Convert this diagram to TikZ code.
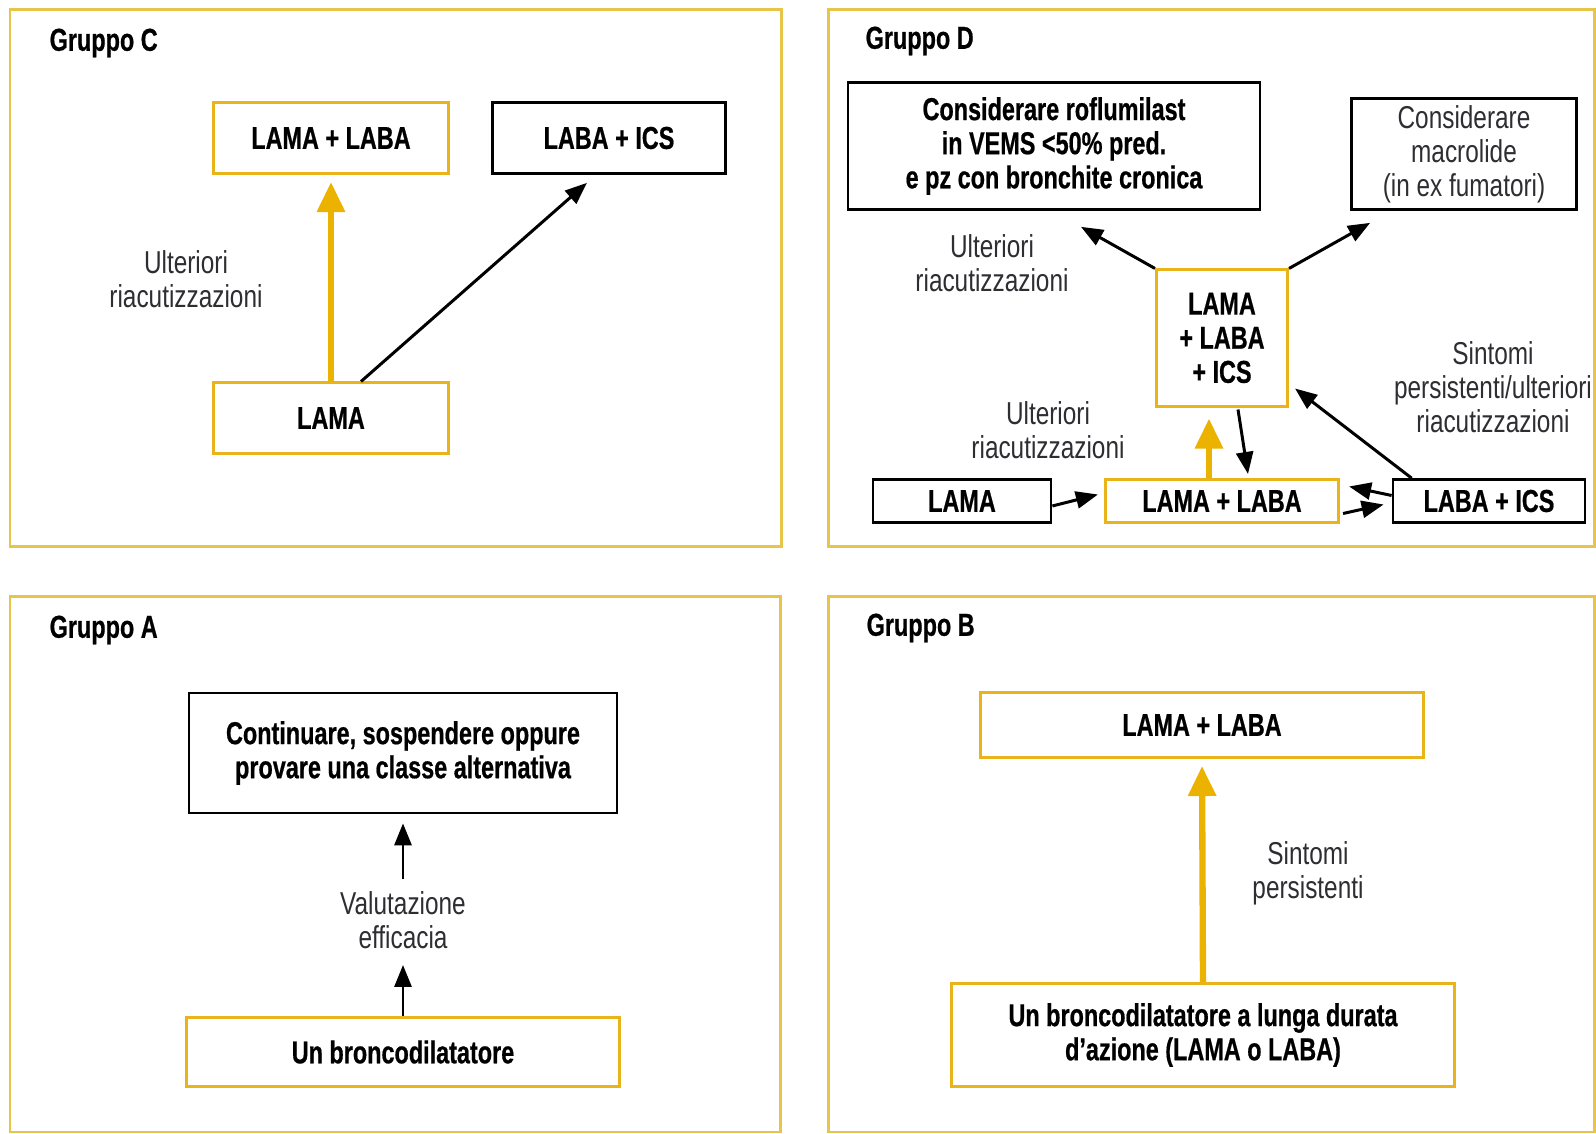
\documentclass[tikz,border=0pt]{standalone}
\usepackage{fontspec}
\setmainfont{Liberation Sans}[FakeStretch=0.77,BoldFeatures={FakeStretch=0.74,FakeBold=0.6}]
\usepackage{tikz}
\usetikzlibrary{arrows.meta,calc}

\definecolor{goldline}{RGB}{232,180,25}
\definecolor{goldframe}{RGB}{231,197,75}
\definecolor{goldfill}{RGB}{236,178,0}
\definecolor{labelgray}{RGB}{45,45,50}

\newcommand{\txtfont}{\fontsize{9}{9.7}\selectfont}
\newcommand{\boldfont}{\fontsize{9}{9.7}\selectfont\bfseries}

\tikzset{
  panel/.style={draw=goldframe,line width=0.85pt},
  goldbox/.style={draw=goldline,line width=0.85pt,align=center,font=\boldfont,inner sep=0pt},
  blackbox/.style={draw=black,line width=0.75pt,align=center,font=\boldfont,inner sep=0pt},
  grp/.style={anchor=west,font=\boldfont,inner sep=0pt},
  lbl/.style={align=center,text=labelgray,font=\txtfont,inner sep=0pt},
  blackarrow/.style={draw=black,line width=0.85pt,-{Triangle[length=0.22cm,width=0.17cm]}},
  goldarrow/.style={draw=goldfill,line width=1.8pt,-{Triangle[length=0.3cm,width=0.27cm]}}
}

\begin{document}
\begin{tikzpicture}[x=0.01cm,y=-0.01cm,font=\txtfont]
        \useasboundingbox (0,0) rectangle (1596,1134);

        % the four panels
        \draw[panel] (10,10) rectangle (781,547);
        \draw[panel] (828,10) rectangle (1594,547);
        \draw[panel] (10,597) rectangle (780,1132);
        \draw[panel] (828,597) rectangle (1594,1132);

        % gruppo C
        \node[grp] (gC) at (49,43) {Gruppo C};
        \node[goldbox,minimum width=2.34cm,minimum height=0.71cm] (cLL) at (331,138) {LAMA + LABA};
        \node[blackbox,minimum width=2.33cm,minimum height=0.71cm] (cLI) at (609,138) {LABA + ICS};
        \node[goldbox,minimum width=2.34cm,minimum height=0.70cm] (cL) at (331,418) {LAMA};
        \node[lbl] (cU) at (186,279) {Ulteriori\\riacutizzazioni};

        \draw[goldarrow,shorten >=0.07cm] (cL.north) -- (cLL.south);
        \draw[blackarrow] ([xshift=0.3cm]cL.north) -- ([xshift=-0.22cm,yshift=-0.08cm]cLI.south);

        % gruppo D
        \node[grp] (gD) at (865,41) {Gruppo D};
        \node[blackbox,minimum width=4.12cm,minimum height=1.27cm] (dR) at (1054,146) {Considerare roflumilast\\in VEMS <50\% pred.\\e pz con bronchite cronica};
        \node[blackbox,font=\txtfont,text=labelgray,minimum width=2.25cm,minimum height=1.11cm] (dM) at (1464,154) {Considerare\\macrolide\\(in ex fumatori)};
        \node[goldbox,minimum width=1.31cm,minimum height=1.36cm] (dT) at (1222,338) {LAMA\\+ LABA\\+ ICS};
        \node[blackbox,minimum width=1.78cm,minimum height=0.43cm] (dL) at (962,501) {LAMA};
        \node[goldbox,minimum width=2.33cm,minimum height=0.43cm] (dLL) at (1222,501) {LAMA + LABA};
        \node[blackbox,minimum width=1.92cm,minimum height=0.43cm] (dLI) at (1489,501) {LABA + ICS};
        \node[lbl] (dU1) at (992,263) {Ulteriori\\riacutizzazioni};
        \node[lbl] (dS) at (1493,387) {Sintomi\\persistenti/ulteriori\\riacutizzazioni};
        \node[lbl] (dU2) at (1048,430) {Ulteriori\\riacutizzazioni};

        \draw[blackarrow] (dT.north west) -- ([xshift=0.27cm,yshift=-0.16cm]dR.south);
        \draw[blackarrow] (dT.north east) -- ([xshift=0.2cm,yshift=-0.12cm]dM.south west);
        \draw[goldarrow] ([xshift=-0.13cm]dLL.north) -- ([xshift=-0.13cm,yshift=-0.11cm]dT.south);
        \draw[blackarrow] ([xshift=0.16cm,yshift=-0.02cm]dT.south) -- ([xshift=0.26cm,yshift=0.04cm]dLL.north);
        \draw[blackarrow] ([xshift=0.2cm]dLI.north west) -- ([xshift=0.06cm,yshift=0.19cm]dT.south east);
        \draw[blackarrow] ([yshift=-0.05cm]dL.east) -- ([xshift=-0.06cm,yshift=0.065cm]dLL.west);
        \draw[blackarrow] ([yshift=0.055cm]dLI.west) -- ([xshift=0.09cm,yshift=0.145cm]dLL.east);
        \draw[blackarrow] ([xshift=0.03cm,yshift=-0.125cm]dLL.east) -- ([xshift=-0.08cm,yshift=-0.035cm]dLI.west);

        % gruppo A
        \node[grp] (gA) at (49,630) {Gruppo A};
        \node[blackbox,minimum width=4.28cm,minimum height=1.20cm] (aC) at (403,753) {Continuare, sospendere oppure\\provare una classe alternativa};
        \node[goldbox,minimum width=4.32cm,minimum height=0.69cm] (aU) at (403,1052) {Un broncodilatatore};
        \node[lbl] (aV) at (403,920) {Valutazione\\efficacia};

        \draw[blackarrow,shorten >=0.09cm] ([yshift=-0.65cm]aC.south) -- (aC.south);
        \draw[blackarrow] (aU.north) -- ([yshift=0.51cm]aU.north);

        % gruppo B
        \node[grp] (gB) at (866,628) {Gruppo B};
        \node[goldbox,minimum width=4.43cm,minimum height=0.65cm] (bLL) at (1202,725) {LAMA + LABA};
        \node[goldbox,minimum width=5.03cm,minimum height=1.03cm] (bU) at (1203,1035) {Un broncodilatatore a lunga durata\\d’azione (LAMA o LABA)};
        \node[lbl] (bS) at (1308,873) {Sintomi\\persistenti};

        \draw[goldarrow,shorten >=0.07cm] (bU.north) -- (bLL.south);
\end{tikzpicture}
\end{document}
